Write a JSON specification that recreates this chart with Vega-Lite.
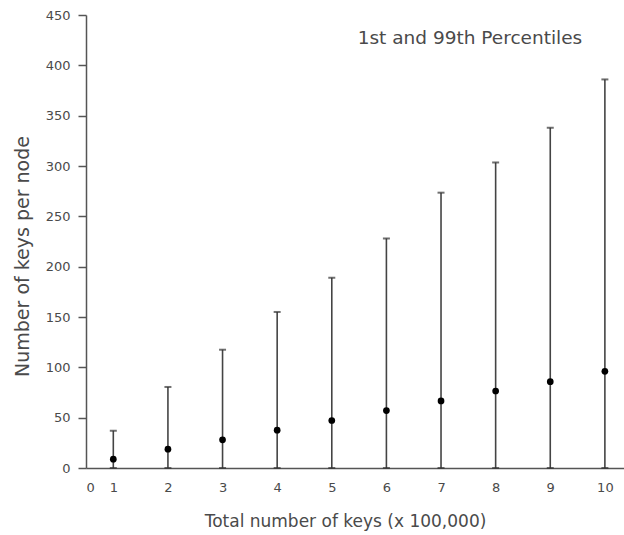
{
  "$schema": "https://vega.github.io/schema/vega-lite/v6.json",
  "autosize": "none",
  "padding": {"left": 86, "top": 15, "right": 0, "bottom": 67},
  "width": 538,
  "height": 453,
  "background": "white",
  "config": {
    "view": {"stroke": null},
    "font": "DejaVu Sans",
    "axis": {
      "domainColor": "#555",
      "domainWidth": 1.5,
      "tickColor": "#555",
      "tickWidth": 1.5,
      "labelColor": "#4a4a4a",
      "labelFont": "DejaVu Sans",
      "labelFontSize": 13,
      "titleColor": "#4a4a4a",
      "titleFont": "DejaVu Sans",
      "titleFontSize": 17,
      "titleFontWeight": "normal",
      "grid": false
    }
  },
  "data": {
    "values": [
      {"n": 1, "mean": 8.8, "lo": 0, "hi": 37},
      {"n": 2, "mean": 18.7, "lo": 0, "hi": 80.5},
      {"n": 3, "mean": 28, "lo": 0, "hi": 117.5},
      {"n": 4, "mean": 37.6, "lo": 0, "hi": 155},
      {"n": 5, "mean": 47.2, "lo": 0, "hi": 189},
      {"n": 6, "mean": 57, "lo": 0, "hi": 228},
      {"n": 7, "mean": 66.6, "lo": 0, "hi": 273.5},
      {"n": 8, "mean": 76.5, "lo": 0, "hi": 303.5},
      {"n": 9, "mean": 85.8, "lo": 0, "hi": 338},
      {"n": 10, "mean": 96, "lo": 0, "hi": 386}
    ]
  },
  "encoding": {
    "x": {
      "field": "n",
      "type": "quantitative",
      "scale": {"domain": [0.5, 10.35], "nice": false, "zero": false},
      "axis": {
        "values": [0.5, 1, 2, 3, 4, 5, 6, 7, 8, 9, 10],
        "labelExpr": "datum.value == 0.5 ? '0' : datum.label",
        "ticks": false,
        "labelPadding": 13,
        "title": "Total number of keys (x 100,000)",
        "titleX": 259,
        "titleY": 53,
        "titleAlign": "center",
        "titleBaseline": "middle"
      }
    }
  },
  "layer": [
    {
      "mark": {"type": "rule", "color": "#444", "strokeWidth": 1.6},
      "encoding": {
        "y": {
          "field": "lo",
          "type": "quantitative",
          "scale": {"domain": [0, 450], "nice": false},
          "axis": {
            "values": [0, 25, 50, 75, 100, 125, 150, 175, 200, 225, 250, 275, 300, 325, 350, 375, 400, 425, 450],
            "labelExpr": "datum.value % 50 === 0 ? datum.label : ''",
            "tickSize": {"condition": {"test": "datum.value % 50 === 0", "value": 8}, "value": 3},
            "labelPadding": 8,
            "title": "Number of keys per node",
            "titleFontSize": 19,
            "titleX": -64,
            "titleY": 241,
            "titleAlign": "center",
            "titleBaseline": "middle"
          }
        },
        "y2": {"field": "hi"}
      }
    },
    {
      "mark": {"type": "tick", "color": "#333", "thickness": 2, "size": 7, "orient": "horizontal"},
      "encoding": {"y": {"field": "hi", "type": "quantitative"}}
    },
    {
      "mark": {"type": "tick", "color": "#333", "thickness": 2, "size": 7, "orient": "horizontal"},
      "encoding": {"y": {"field": "lo", "type": "quantitative"}}
    },
    {
      "mark": {"type": "point", "filled": true, "color": "black", "size": 45, "opacity": 1},
      "encoding": {"y": {"field": "mean", "type": "quantitative"}}
    },
    {
      "data": {"values": [{"n": 7.53, "v": 427, "label": "1st and 99th Percentiles"}]},
      "mark": {"type": "text", "fontSize": 18.5, "color": "#4a4a4a", "font": "DejaVu Sans", "align": "center", "baseline": "middle"},
      "encoding": {
        "y": {"field": "v", "type": "quantitative"},
        "text": {"field": "label"}
      }
    }
  ]
}
